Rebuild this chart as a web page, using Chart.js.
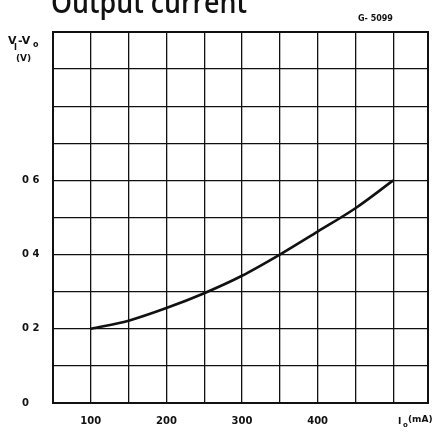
<!DOCTYPE html>
<html>
<head>
<meta charset="utf-8">
<script src="https://cdn.jsdelivr.net/npm/chart.js@4"></script>
<style>
  html, body { margin: 0; padding: 0; background: #fff; }
  #wrap { width: 436px; height: 435px; }
</style>
</head>
<body>
<div id="wrap"><canvas id="chart" width="436" height="435"></canvas></div>
<script>
const currentMA = [100, 150, 200, 250, 300, 350, 400, 450, 500];
const dropV = [0.2, 0.222, 0.256, 0.296, 0.343, 0.40, 0.462, 0.525, 0.6];
const xLabels = [100, 200, 300, 400];
const yLabels = ["0", "0 2", "0 4", "0 6"];

const ink = "#111";
const tickFont = { family: "DejaVu Sans", size: 10, weight: "bold" };

const extraText = {
  id: "extraText",
  afterDraw(chart) {
    const c = chart.ctx;
    c.save();
    c.fillStyle = ink;
    c.textBaseline = "alphabetic";
    // title, cut by the top edge; squeezed to span ~196px
    c.font = "600 31px 'Open Sans'";
    const w = c.measureText("Output current").width;
    c.save();
    c.translate(51, 13);
    c.scale(196 / w, 1);
    c.fillText("Output current", 0, 0);
    c.restore();
    // figure code
    c.font = "bold 8px 'DejaVu Sans'";
    c.fillText("G- 5099", 358, 21);
    // y axis name
    c.font = "bold 11px 'DejaVu Sans'";
    c.fillText("V", 8, 44);
    c.fillText("-V", 18, 44);
    c.font = "bold 8px 'DejaVu Sans'";
    c.fillText("I", 14, 50);
    c.fillText("o", 33, 47);
    c.font = "bold 9px 'DejaVu Sans'";
    c.fillText("(V)", 16, 61);
    // x axis name
    c.font = "bold 9px 'DejaVu Sans'";
    c.fillText("I", 398, 424);
    c.font = "bold 7px 'DejaVu Sans'";
    c.fillText("o", 403, 427);
    c.font = "bold 9px 'DejaVu Sans'";
    c.fillText("(mA)", 408, 422);
    c.restore();
  }
};

new Chart(document.getElementById("chart"), {
  type: "line",
  data: {
    datasets: [{
      data: currentMA.map((x, i) => ({ x: x, y: dropV[i] })),
      borderColor: ink,
      borderWidth: 2.6,
      pointRadius: 0,
      cubicInterpolationMode: "monotone",
      fill: false
    }]
  },
  options: {
    responsive: false,
    animation: false,
    layout: { padding: { top: 32, right: 8, left: 22, bottom: 0 } },
    plugins: { legend: { display: false }, tooltip: { enabled: false } },
    scales: {
      x: {
        type: "linear",
        min: 50,
        max: 546,
        afterFit(s) { s.height = 32; s.paddingRight = 0; },
        border: { color: ink, width: 2 },
        grid: { color: ink, lineWidth: 1.3, drawTicks: false },
        ticks: {
          stepSize: 50,
          padding: 12,
          color: ink,
          font: tickFont,
          maxRotation: 0,
          autoSkip: false,
          callback: v => xLabels.includes(v) ? String(v) : ""
        }
      },
      y: {
        min: 0,
        max: 1,
        afterFit(s) { s.width = 31; },
        border: { color: ink, width: 2 },
        grid: { color: ink, lineWidth: 1.3, drawTicks: false },
        ticks: {
          stepSize: 0.1,
          crossAlign: "far",
          color: ink,
          font: tickFont,
          autoSkip: false,
          callback: v => {
            const i = Math.round(v * 10);
            return i % 2 === 0 && i <= 6 ? yLabels[i / 2] : "";
          }
        }
      }
    }
  },
  plugins: [extraText, {
    id: "frame",
    afterDraw(chart) {
      const a = chart.chartArea, c = chart.ctx;
      c.save();
      c.strokeStyle = ink;
      c.lineWidth = 2;
      c.strokeRect(a.left, a.top, a.right - a.left, a.bottom - a.top);
      c.restore();
    }
  }]
});
</script>
</body>
</html>
